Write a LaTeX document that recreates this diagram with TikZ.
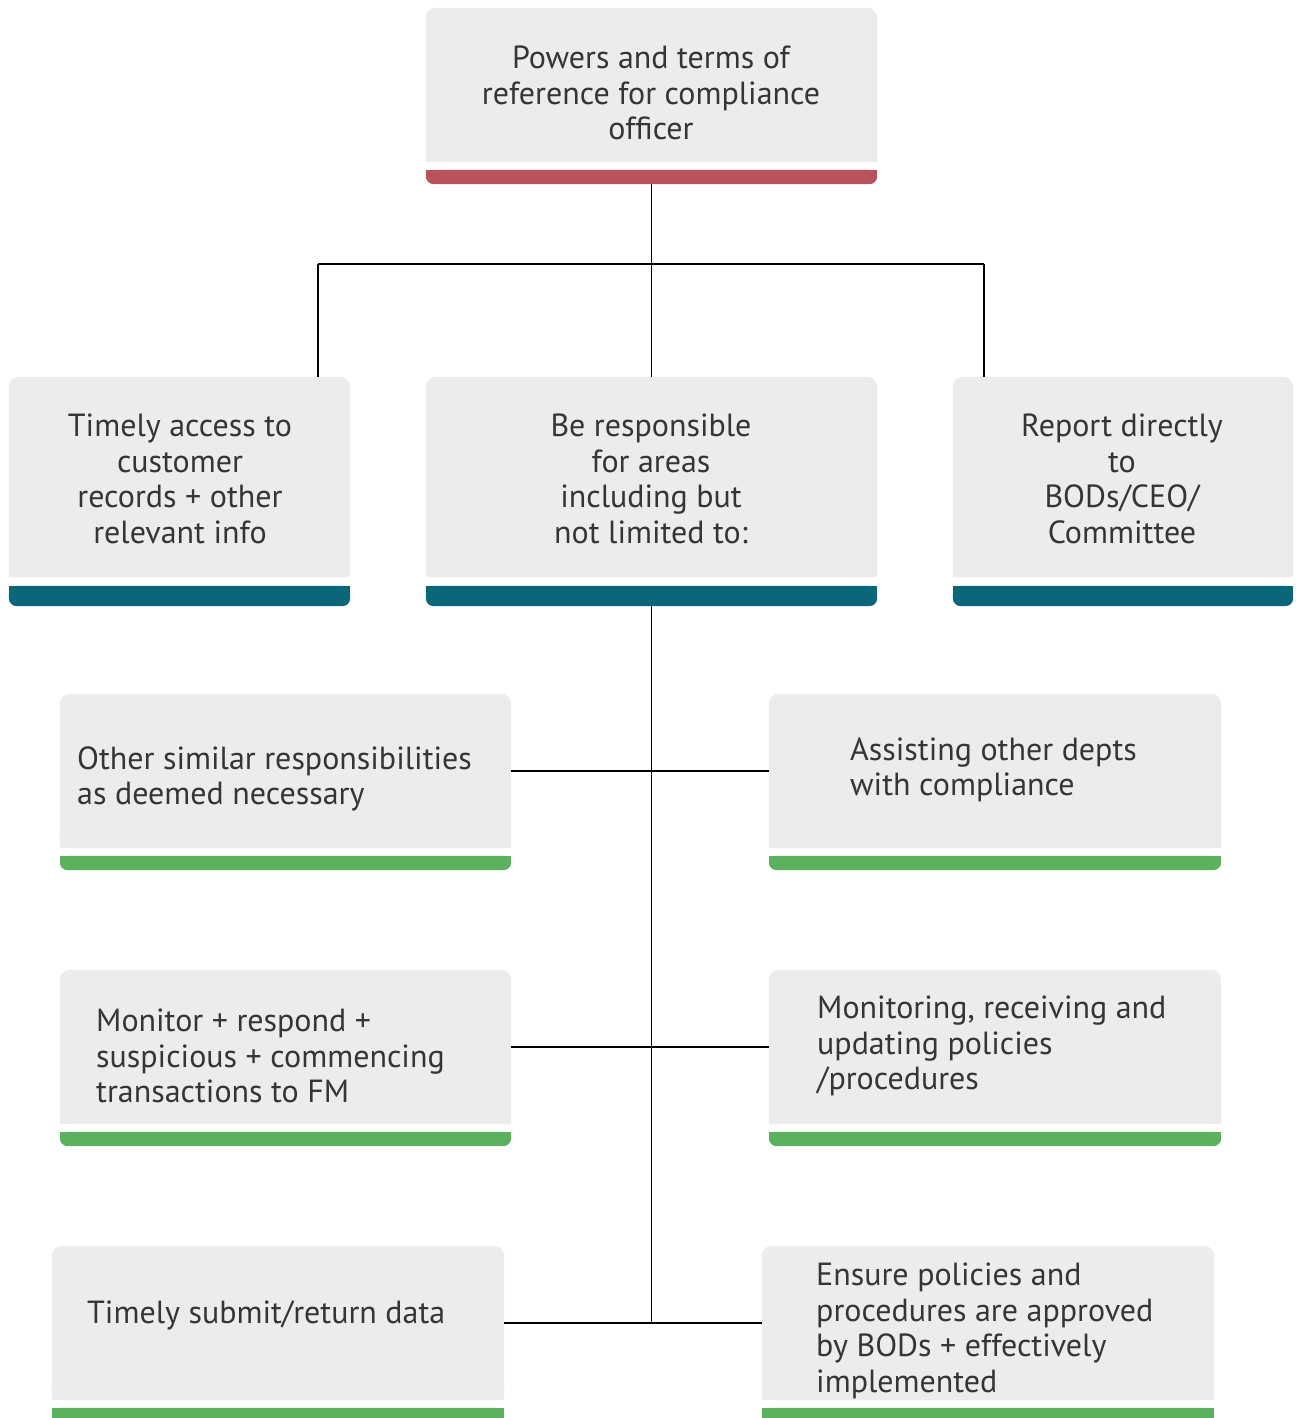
\documentclass[tikz,border=0pt]{standalone}
\usepackage{fontspec}
\setmainfont{PT Sans}
\definecolor{boxgray}{HTML}{EBECEE}
\definecolor{barred}{HTML}{B8525C}
\definecolor{barteal}{HTML}{0B6679}
\definecolor{bargreen}{HTML}{5CB15E}
\definecolor{txt}{HTML}{353535}
\tikzset{
  lbl/.style={inner sep=0pt, text=txt, font=\fontsize{32}{35.6}\selectfont},
  conn/.style={line width=1.6pt, black},
}
% name, x1, y1, x2, y2 (gray), bar y1, bar y2, colour
\newcommand\cbox[8]{%
  \node[inner sep=0pt, minimum width={#4-#2}, minimum height={#5-#3}] (#1) at ({(#2+#4)/2},{(#3+#5)/2}) {};
  \fill[boxgray, rounded corners=10pt] (#1.north west) rectangle (#1.south east);
  \fill[boxgray, rounded corners=2pt] ([yshift=20pt]#1.south west) rectangle (#1.south east);
  \node[inner sep=0pt, minimum width={#4-#2}, minimum height={#7-#6}] (#1bar) at ({(#2+#4)/2},{(#6+#7)/2}) {};
  \fill[#8, rounded corners=8pt] (#1bar.north west) rectangle (#1bar.south east);
  \fill[#8] (#1bar.north west) rectangle ([yshift=-1pt]#1bar.east);
}
\begin{document}
\begin{tikzpicture}[x=1pt,y=-1pt]
\useasboundingbox (0,0) rectangle (1295,1418);
\begin{scope}
\clip (0,0) rectangle (1295,1418);
\cbox{top}{426}{8}{877}{162}{170}{184}{barred}
\cbox{acc}{9}{377}{350}{577}{586}{606}{barteal}
\cbox{resp}{426}{377}{877}{577}{586}{606}{barteal}
\cbox{rep}{953}{377}{1293}{577}{586}{606}{barteal}
\cbox{oth}{60}{694}{511}{848}{856}{870}{bargreen}
\cbox{ass}{769}{694}{1221}{848}{856}{870}{bargreen}
\cbox{mon}{60}{970}{511}{1124}{1132}{1146}{bargreen}
\cbox{upd}{769}{970}{1221}{1124}{1132}{1146}{bargreen}
\cbox{sub}{52}{1246}{504}{1400}{1408}{1424}{bargreen}
\cbox{ens}{762}{1246}{1214}{1400}{1408}{1424}{bargreen}
\end{scope}

% texts
\node[lbl, align=center] (ttop) at (651,93) {Powers and terms of\\reference for compliance\\officer};
\node[lbl, align=center] (tacc) at (180,479) {Timely access to\\customer\\records + other\\relevant info};
\node[lbl, align=center] (tresp) at (651,479) {Be responsible\\for areas\\including but\\not limited to:};
\node[lbl, align=center] (trep) at (1122,479) {Report directly\\to\\BODs/CEO/\\Committee};
\node[lbl, align=left, anchor=west] (toth) at (77,779) {Other similar responsibilities\\as deemed necessary};
\node[lbl, align=left, anchor=west] (tass) at (850,770) {Assisting other depts\\with compliance};
\node[lbl, align=left, anchor=west] (tmon) at (96,1056) {Monitor + respond +\\suspicious + commencing\\transactions to FM};
\node[lbl, align=left, anchor=west] (tupd) at (817,1046) {Monitoring, receiving and\\updating policies\\/procedures};
\node[lbl, align=left, anchor=west] (tsub) at (87,1315) {Timely submit/return data};
\node[lbl, align=left, anchor=west] (tens) at (816,1331) {Ensure policies and\\procedures are approved\\by BODs + effectively\\implemented};

% connectors
\coordinate (jc) at (651,264);
\coordinate (jl) at (318,264);
\coordinate (jr) at (984,264);
\draw[conn] (topbar.south) -- (resp.north);
\draw[conn] (jl) -- (jr);
\draw[conn] (jl) -- (jl |- acc.north);
\draw[conn] (jr) -- (jr |- rep.north);
\draw[conn] (respbar.south) -- (respbar.south |- sub.east);
\draw[conn] (oth.east) -- (ass.west);
\draw[conn] (mon.east) -- (upd.west);
\draw[conn] (sub.east) -- (ens.west);
\end{tikzpicture}
\end{document}
